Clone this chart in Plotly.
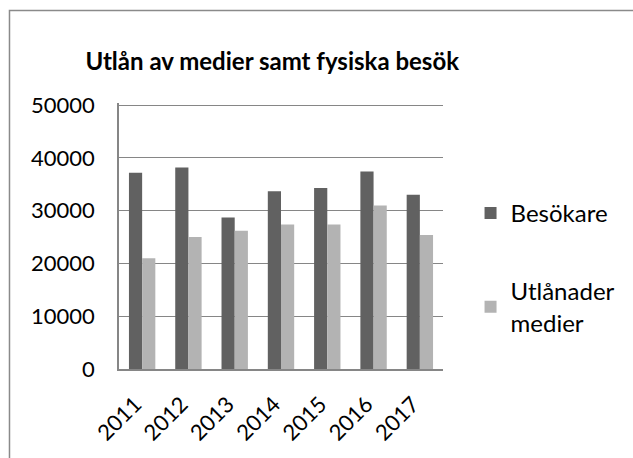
import plotly.graph_objects as go

years = ["2011", "2012", "2013", "2014", "2015", "2016", "2017"]
besokare = [37200, 38200, 28700, 33700, 34300, 37400, 33000]
utlanader = [21000, 25000, 26200, 27400, 27400, 31000, 25400]
y_ticks = [0, 10000, 20000, 30000, 40000, 50000]

FONT = "Lato, Carlito, Calibri, sans-serif"

fig = go.Figure()
fig.add_trace(go.Bar(x=years, y=besokare, name="Besökare",
                     marker=dict(color="#616161", line=dict(width=0)),
                     legendgroup="a"))
fig.add_trace(go.Bar(x=years, y=utlanader, name="Utlånader<br>medier",
                     marker=dict(color="#b3b3b3", line=dict(width=0)),
                     legendgroup="b"))

fig.update_layout(
    width=633, height=458,
    margin=dict(l=119, r=186, t=103, b=86),
    paper_bgcolor="white", plot_bgcolor="white",
    barmode="group", bargap=0.43, bargroupgap=0,
    font=dict(family=FONT, size=19, color="#000000"),
    title=dict(text="<b>Utlån av medier samt fysiska besök</b>",
               font=dict(family=FONT, size=24, color="#000000"),
               x=0.43, xanchor="center", y=0.865, yanchor="middle"),
    legend=dict(x=1.085, xanchor="left", y=0.67, yanchor="top",
                tracegroupgap=44, font=dict(family=FONT, size=24),
                bgcolor="rgba(0,0,0,0)", itemclick=False),
    showlegend=True,
)
fig.update_yaxes(range=[0, 50400], tickvals=y_ticks, ticktext=[str(v) for v in y_ticks],
                 showgrid=True, gridcolor="#868686", gridwidth=1,
                 showline=True, linecolor="#868686", linewidth=1.5,
                 zeroline=False, ticks="", ticklabelstandoff=18,
                 tickfont=dict(family=FONT, size=22))
fig.update_xaxes(showgrid=False, showline=True, linecolor="#868686", linewidth=1.5,
                 ticks="", tickangle=-45, tickfont=dict(family=FONT, size=22),
                 ticklabelstandoff=12, ticklabelshift=-7)
fig.add_shape(type="rect", xref="paper", yref="paper",
              x0=-0.338, x1=2.0, y0=-1.0, y1=1.348,
              line=dict(color="#8a8a8a", width=1.5), fillcolor="rgba(0,0,0,0)", layer="below")

fig.write_html("out.html", post_script="document.body.style.margin='0';",
               config={"displayModeBar": False})
